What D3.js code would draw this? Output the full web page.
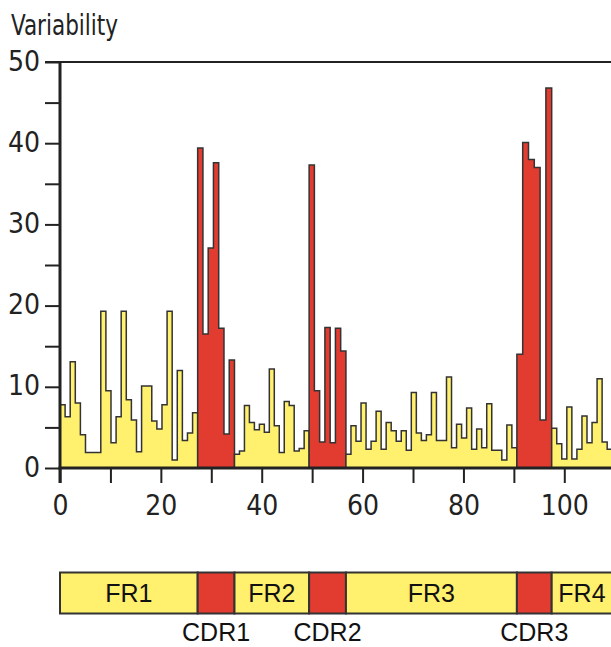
<!DOCTYPE html>
<html><head><meta charset="utf-8">
<script src="https://cdn.jsdelivr.net/npm/d3@7"></script>
<style>
html,body{margin:0;padding:0;background:#fff;overflow:hidden;}
svg{display:block;}
</style></head><body>
<svg id="chart" width="611" height="647"></svg>
<script>
// ---- data ----
const regionNames = ["FR1", "CDR1", "FR2", "CDR2", "FR3", "CDR3", "FR4"];
const regionKinds = ["FR", "CDR", "FR", "CDR", "FR", "CDR", "FR"];
const regionBounds = [0, 27.3, 34.6, 49.4, 56.7, 90.6, 97.5, 109.5];

const fr1Values = [7.8, 6.3, 13.1, 8.0, 4.1, 1.9, 1.9, 1.9, 19.3, 9.5, 3.1, 6.3, 19.3, 8.4, 5.9, 2.0, 10.1, 10.1, 5.8, 4.8, 7.8, 19.3, 1.0, 12.0, 3.4, 4.3, 6.8];
const cdr1Values = [39.4, 16.5, 27.1, 37.6, 17.2, 4.2, 13.3];
const fr2Values = [1.7, 2.1, 7.7, 5.6, 4.7, 5.4, 4.4, 12.2, 5.2, 1.9, 8.2, 7.7, 2.1, 2.4, 4.6];
const cdr2Values = [37.3, 9.5, 3.2, 17.3, 3.1, 17.2, 14.4];
const fr3Values = [1.7, 5.2, 3.3, 8.0, 2.3, 3.3, 7.0, 2.3, 5.6, 4.6, 3.3, 4.6, 2.2, 9.3, 4.3, 3.4, 4.1, 9.3, 3.4, 3.4, 11.2, 2.5, 5.4, 3.7, 7.4, 2.3, 4.8, 2.5, 7.9, 2.2, 2.2, 1.0, 5.3, 2.5];
const cdr3Values = [14.0, 40.1, 38.0, 37.0, 5.9, 46.8];
const fr4Values = [4.9, 3.0, 1.1, 7.5, 1.1, 2.3, 6.4, 3.1, 5.6, 11.0, 3.2, 2.3];
const regionValues = [fr1Values, cdr1Values, fr2Values, cdr2Values, fr3Values, cdr3Values, fr4Values];

const xTickValues = [0, 10, 20, 30, 40, 50, 60, 70, 80, 90, 100, 110];
const xTickLabels = [0, 20, 40, 60, 80, 100];
const yTickValues = [0, 5, 10, 15, 20, 25, 30, 35, 40, 45, 50];
const yTickLabels = [0, 10, 20, 30, 40, 50];
const yTitle = "Variability";

// ---- style ----
const colors = { FR: "#FFF06E", CDR: "#E23C30" };
const stroke = "#333";
const narrowFont = "'Liberation Sans Narrow','DejaVu Sans Condensed','Arial Narrow',sans-serif";
const regFont = "'Liberation Sans',Arial,sans-serif";

const svg = d3.select("#chart");
const x = d3.scaleLinear().domain([0, 100]).range([60, 564.3]);
const y = d3.scaleLinear().domain([0, 50]).range([468, 62]);

// ---- bars (step areas per region) ----
const area = d3.area()
  .x(d => x(d.pos))
  .y0(y(0))
  .y1(d => y(d.v))
  .curve(d3.curveStepAfter);

regionValues.forEach((vals, r) => {
  const a = regionBounds[r], b = regionBounds[r + 1];
  const w = (b - a) / vals.length;
  const pts = vals.map((v, i) => ({ pos: a + i * w, v }));
  pts.push({ pos: b, v: vals[vals.length - 1] });
  svg.append("path")
    .attr("d", area(pts) + "Z")
    .attr("fill", colors[regionKinds[r]])
    .attr("stroke", stroke)
    .attr("stroke-width", 1.5)
    .attr("stroke-linejoin", "miter");
});

// ---- axes ----
const yAxis = d3.axisLeft(y)
  .tickValues(yTickValues)
  .tickSize(15)
  .tickPadding(5)
  .tickFormat(d => yTickLabels.includes(d) ? d : "");
const gy = svg.append("g").attr("transform", `translate(${x(0)},0)`).call(yAxis);
gy.select(".domain").remove();
gy.selectAll(".tick line").attr("stroke", "#222").attr("stroke-width", 2);
gy.selectAll(".tick text").attr("font-family", narrowFont).attr("font-size", 28)
  .attr("fill", "#222").attr("dy", "0.29em");

const xAxis = d3.axisBottom(x)
  .tickValues(xTickValues)
  .tickSize(15)
  .tickPadding(12)
  .tickFormat(d => xTickLabels.includes(d) ? d : "");
const gx = svg.append("g").attr("transform", `translate(0,${y(0)})`).call(xAxis);
gx.select(".domain").remove();
gx.selectAll(".tick line").attr("stroke", "#222").attr("stroke-width", 2);
gx.selectAll(".tick text").attr("font-family", narrowFont).attr("font-size", 28).attr("fill", "#222");

// top frame line at 50
svg.append("line")
  .attr("x1", x(0) - 15).attr("x2", x(110))
  .attr("y1", y(50)).attr("y2", y(50))
  .attr("stroke", "#222").attr("stroke-width", 2);
// y axis line
svg.append("line")
  .attr("x1", x(0)).attr("x2", x(0))
  .attr("y1", y(50)).attr("y2", y(0) + 15)
  .attr("stroke", "#222").attr("stroke-width", 3);
// x axis line
svg.append("line")
  .attr("x1", x(0) - 1.5).attr("x2", x(110))
  .attr("y1", y(0)).attr("y2", y(0))
  .attr("stroke", "#222").attr("stroke-width", 3);

// y title
svg.append("text")
  .attr("x", 11).attr("y", 35)
  .attr("font-family", narrowFont).attr("font-size", 28).attr("fill", "#222")
  .attr("textLength", 107).attr("lengthAdjust", "spacingAndGlyphs")
  .text(yTitle);

// ---- domain map below ----
const boxTop = 572.5, boxH = 41;
const g2 = svg.append("g");
regionNames.forEach((name, r) => {
  const a = x(regionBounds[r]), b = x(regionBounds[r + 1]);
  g2.append("rect")
    .attr("x", a).attr("y", boxTop).attr("width", b - a).attr("height", boxH)
    .attr("fill", colors[regionKinds[r]])
    .attr("stroke", stroke).attr("stroke-width", 2);
});
regionNames.forEach((name, r) => {
  const a = x(regionBounds[r]), b = x(regionBounds[r + 1]);
  const isFR = regionKinds[r] === "FR";
  g2.append("text")
    .attr("x", (a + b) / 2)
    .attr("y", isFR ? 601.5 : 641)
    .attr("text-anchor", "middle")
    .attr("font-family", regFont).attr("font-size", 25).attr("fill", "#111")
    .text(name);
});
</script>
</body></html>
